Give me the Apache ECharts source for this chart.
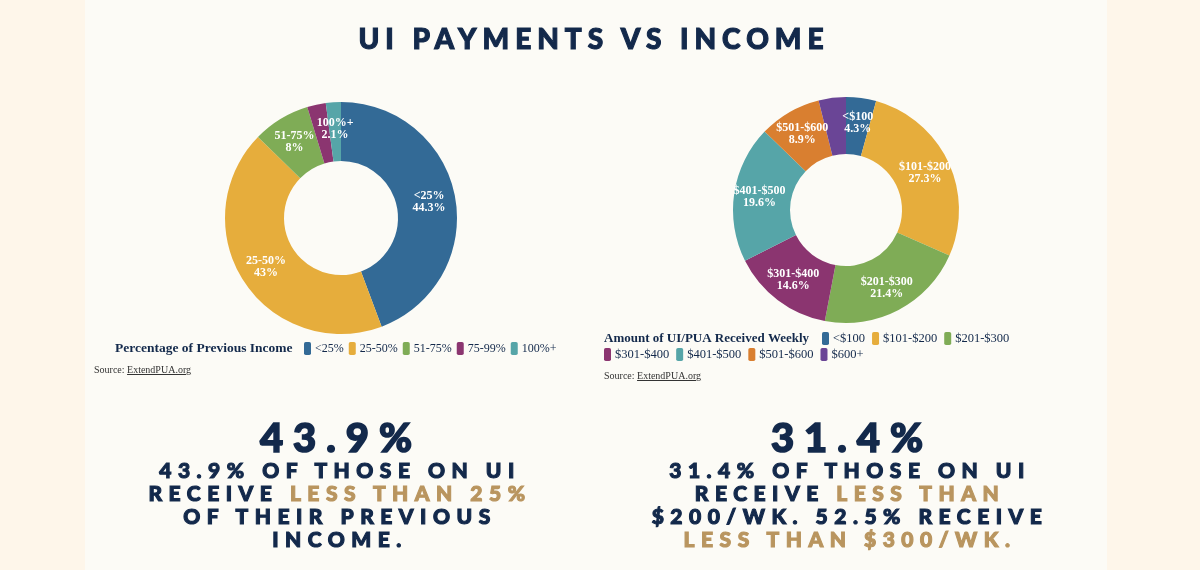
<!DOCTYPE html>
<html>
<head>
<meta charset="utf-8">
<script src="https://cdn.jsdelivr.net/npm/echarts@6/dist/echarts.min.js"></script>
<style>
  html,body{margin:0;padding:0;}
  body{width:1200px;height:570px;background:#fef6ea;position:relative;overflow:hidden;}
  #panel{position:absolute;left:85px;top:0;width:1022px;height:570px;background:#fcfbf6;}
  #chart{position:absolute;left:0;top:0;width:1200px;height:570px;}
  .t{position:absolute;font-family:"Lato Black",Lato,"Open Sans",sans-serif;font-weight:900;color:#13294b;text-align:center;white-space:nowrap;-webkit-text-stroke:1.1px currentColor;}
  #title{left:0;width:1176px;top:19px;font-size:28px;letter-spacing:6px;padding-left:6px;line-height:38px;}
  .big{font-size:40px;letter-spacing:10px;line-height:48px;-webkit-text-stroke:1.6px currentColor;}
  .lines{font-size:21px;letter-spacing:6.5px;line-height:23px;}
  .g{color:#b9955f;}
  .src{position:absolute;font-family:"Liberation Serif",serif;font-size:10px;color:#333;}
  .src u{text-decoration:underline;}
</style>
</head>
<body>
<div id="panel"></div>
<div id="chart"></div>
<div id="title" class="t">UI PAYMENTS VS INCOME</div>
<div class="t big" style="left:131px;width:400px;top:413px;padding-left:10px;">43.9%</div>
<div class="t lines" style="left:134px;width:400px;top:458px;padding-left:6px;">43.9% OF THOSE ON UI<br>RECEIVE <span class="g">LESS THAN 25%</span><br>OF THEIR PREVIOUS<br>INCOME.</div>
<div class="t big" style="left:642px;width:400px;top:413px;padding-left:10px;">31.4%</div>
<div class="t lines" style="left:644px;width:400px;top:458px;padding-left:6px;">31.4% OF THOSE ON UI<br>RECEIVE <span class="g">LESS THAN</span><br>$200/WK. 52.5% RECEIVE<br><span class="g">LESS THAN $300/WK.</span></div>
<div class="src" style="left:94px;top:364px;">Source: <u>ExtendPUA.org</u></div>
<div class="src" style="left:604px;top:370px;">Source: <u>ExtendPUA.org</u></div>
<script>
// Left chart: share of previous income replaced
const incomeCategories = ['<25%', '25-50%', '51-75%', '75-99%', '100%+'];
const incomeValues = [44.3, 43, 8, 2.6, 2.1];
// Right chart: weekly UI/PUA amount
const amountCategories = ['<$100', '$101-$200', '$201-$300', '$301-$400', '$401-$500', '$501-$600', '$600+'];
const amountValues = [4.3, 27.3, 21.4, 14.6, 19.6, 8.9, 3.9];

const incomeColors = ['#336a96', '#e6ad3c', '#7fac56', '#8b3570', '#56a5a8'];
const amountColors = ['#336a96', '#e6ad3c', '#7fac56', '#8b3570', '#56a5a8', '#d97f30', '#6a4596'];
const hiddenLeft = ['75-99%'];
const hiddenRight = ['$600+'];

function build(names, values, colors, hidden) {
  return names.map((n, i) => {
    const d = { name: n, value: values[i], itemStyle: { color: colors[i] } };
    if (hidden.indexOf(n) >= 0) d.label = { show: false };
    return d;
  });
}

const serif = '"Liberation Serif", "DejaVu Serif", serif';
const navy = '#13294b';
const labelStyle = {
  show: true, position: 'inside', formatter: '{b}\n{c}%',
  color: '#ffffff', fontFamily: serif, fontWeight: 'bold', fontSize: 12, lineHeight: 12
};
const legendBase = {
  orient: 'horizontal', icon: 'roundRect', itemWidth: 7, itemHeight: 13, itemGap: 7, padding: 0,
  textStyle: { fontFamily: serif, fontSize: 12.5, color: navy, padding: [0, 0, 0, -1] },
  selectedMode: false
};

const chart = echarts.init(document.getElementById('chart'));
chart.setOption({
  backgroundColor: 'transparent',
  animation: false,
  graphic: [
    { type: 'text', left: 115, top: 342, style: { text: 'Percentage of Previous Income', font: 'bold 13.5px ' + serif, fill: navy } },
    { type: 'text', left: 604, top: 332, style: { text: 'Amount of UI/PUA Received Weekly', font: 'bold 13px ' + serif, fill: navy } }
  ],
  legend: [
    Object.assign({}, legendBase, { left: 304, top: 342, itemGap: 5, textStyle: Object.assign({}, legendBase.textStyle, { fontSize: 12 }), data: incomeCategories }),
    Object.assign({}, legendBase, { left: 822, top: 332, data: amountCategories.slice(0, 3) }),
    Object.assign({}, legendBase, { left: 604, top: 348, data: amountCategories.slice(3) })
  ],
  series: [
    {
      type: 'pie', center: [341, 218], radius: [57, 116], startAngle: 90,
      label: labelStyle, labelLine: { show: false }, emphasis: { disabled: true },
      data: build(incomeCategories, incomeValues, incomeColors, hiddenLeft)
    },
    {
      type: 'pie', center: [846, 210], radius: [56, 113], startAngle: 90,
      label: labelStyle, labelLine: { show: false }, emphasis: { disabled: true },
      data: build(amountCategories, amountValues, amountColors, hiddenRight)
    }
  ]
});
</script>
</body>
</html>
